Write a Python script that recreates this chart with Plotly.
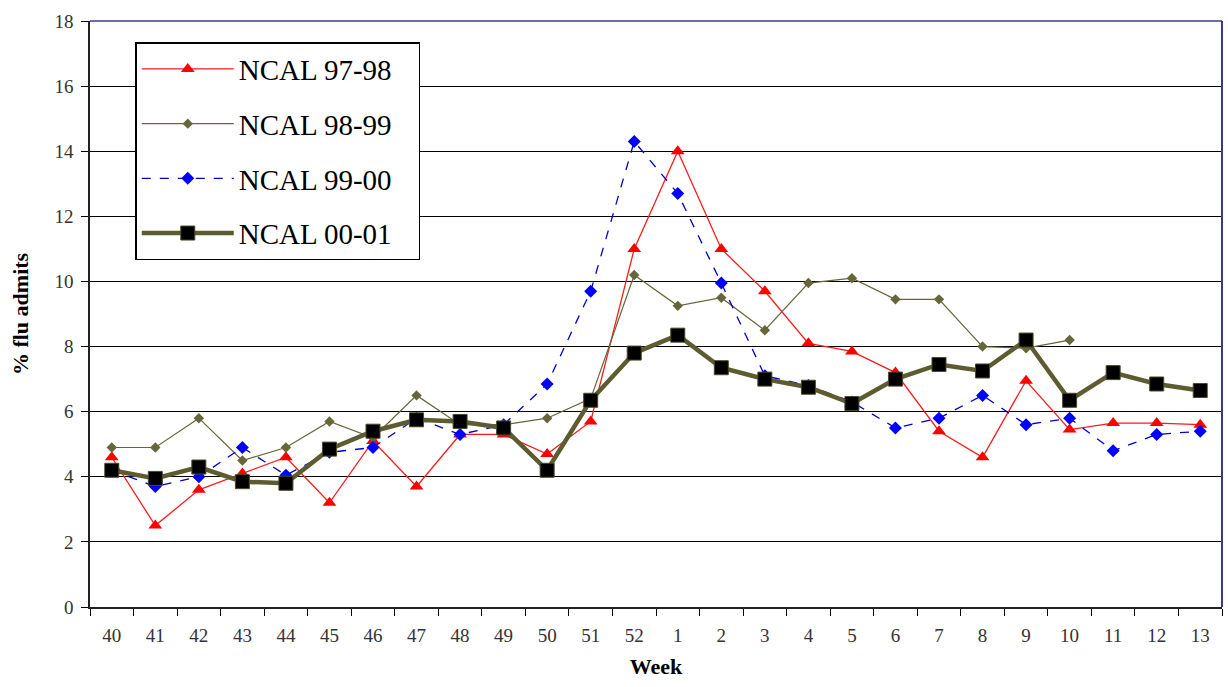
import plotly.graph_objects as go

weeks = ["40", "41", "42", "43", "44", "45", "46", "47", "48", "49", "50", "51", "52",
         "1", "2", "3", "4", "5", "6", "7", "8", "9", "10", "11", "12", "13"]

ncal_97_98 = [4.6, 2.5, 3.6, 4.1, 4.6, 3.2, 5.1, 3.7, 5.3, 5.3, 4.7, 5.7, 11.0,
              14.0, 11.0, 9.7, 8.1, 7.85, 7.2, 5.4, 4.6, 6.95, 5.45, 5.65, 5.65, 5.6]
ncal_98_99 = [4.9, 4.9, 5.8, 4.5, 4.9, 5.7, 5.2, 6.5, 5.6, 5.6, 5.8, 6.4, 10.2,
              9.25, 9.5, 8.5, 9.95, 10.1, 9.45, 9.45, 8.0, 7.95, 8.2, None, None, None]
ncal_99_00 = [4.2, 3.7, 4.0, 4.9, 4.05, 4.75, 4.9, 5.8, 5.3, 5.6, 6.85, 9.7, 14.3,
              12.7, 9.95, 7.1, 6.8, 6.3, 5.5, 5.8, 6.5, 5.6, 5.8, 4.8, 5.3, 5.4]
ncal_00_01 = [4.2, 3.95, 4.3, 3.85, 3.8, 4.85, 5.4, 5.75, 5.7, 5.5, 4.2, 6.35, 7.8,
              8.35, 7.35, 7.0, 6.75, 6.25, 7.0, 7.45, 7.25, 8.2, 6.35, 7.2, 6.85, 6.65]

pad = "\u00a0\u00a0\u00a0"

fig = go.Figure()
fig.add_trace(go.Scatter(
    x=weeks, y=ncal_97_98, name="NCAL 97-98" + pad, mode="lines+markers",
    line=dict(color="#ff1a1a", width=1.3),
    marker=dict(symbol="triangle-up", size=12, color="#ff0000"),
    legendgroup="a"))
fig.add_trace(go.Scatter(
    x=weeks, y=ncal_98_99, name="NCAL 98-99" + pad, mode="lines+markers",
    line=dict(color="#66663a", width=1.2),
    marker=dict(symbol="diamond", size=8, color="#66663a"),
    legendgroup="b"))
fig.add_trace(go.Scatter(
    x=weeks, y=ncal_99_00, name="NCAL 99-00" + pad, mode="lines+markers",
    line=dict(color="#0000cc", width=1.3, dash="dash"),
    marker=dict(symbol="diamond", size=10, color="#0000ff"),
    legendgroup="c"))
fig.add_trace(go.Scatter(
    x=weeks, y=ncal_00_01, name="NCAL 00-01" + pad, mode="lines+markers",
    line=dict(color="#5c5c30", width=4.5),
    marker=dict(symbol="square", size=14, color="#000000",
                line=dict(color="#4a4a28", width=1)),
    legendgroup="d"))

serif = "Times New Roman"

fig.update_layout(
    width=1228, height=687,
    margin=dict(l=90, r=6, t=21, b=80),
    paper_bgcolor="white", plot_bgcolor="white",
    font=dict(family=serif, size=18, color="#222222"),
    showlegend=True,
    legend=dict(
        x=0.04, y=0.964, xanchor="left", yanchor="top",
        bgcolor="white", bordercolor="#000000", borderwidth=1.5,
        font=dict(family=serif, size=29, color="#000000"),
        itemwidth=92, tracegroupgap=14,
    ),
    xaxis=dict(
        type="category", tickson="boundaries", ticks="outside", ticklen=7,
        tickcolor="#000000", showline=True, linecolor="#222222", linewidth=1.5,
        showgrid=False, tickfont=dict(family=serif, size=19, color="#333333"),
        ticklabelstandoff=10,
        title=dict(text="<b>Week</b>", font=dict(family=serif, size=22, color="#000000"),
                   standoff=14),
        range=[-0.5, len(weeks) - 0.5],
    ),
    yaxis=dict(
        range=[0, 18], dtick=2, ticks="outside", ticklen=7, tickcolor="#000000",
        showline=True, linecolor="#222222", linewidth=1.5,
        showgrid=True, gridcolor="#000000", gridwidth=1.2, zeroline=False,
        tickfont=dict(family=serif, size=19, color="#333333"),
        ticklabelstandoff=4,
        title=dict(text="<b>% flu admits</b>", font=dict(family=serif, size=22, color="#000000"),
                   standoff=20),
    ),
    shapes=[
        dict(type="line", xref="paper", yref="paper", x0=0, x1=1, y0=1, y1=1,
             line=dict(color="#3a3a8a", width=1.5)),
        dict(type="line", xref="paper", yref="paper", x0=1, x1=1, y0=0, y1=1,
             line=dict(color="#3a3a8a", width=2)),
    ],
)

fig.write_html("out.html")
